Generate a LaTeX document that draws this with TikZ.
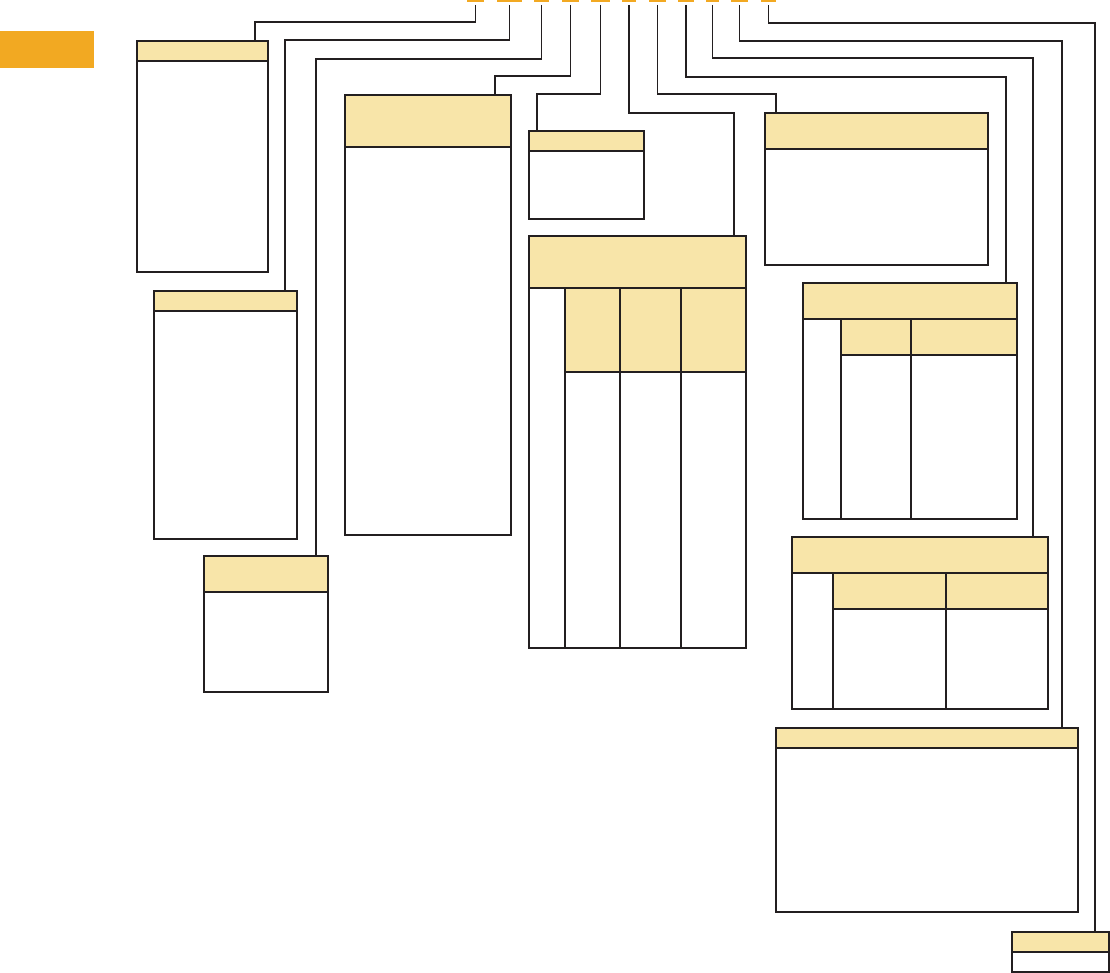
\documentclass[tikz,border=0pt]{standalone}
\usetikzlibrary{backgrounds}
\definecolor{ora}{HTML}{F2A922}
\definecolor{hdr}{HTML}{F8E5A9}
\definecolor{ink}{HTML}{231F20}
\tikzset{
  boxframe/.style={draw=ink, line width=1.1pt, fill=none, inner sep=0pt, outer sep=0pt, anchor=north west},
  hdrfill/.style={fill=hdr},
  tab/.style={fill=ora, draw=none, inner sep=0pt, outer sep=0pt, minimum height=2.5pt, anchor=north west},
  wire/.style={draw=ink, line width=1.1pt, shorten <=2.5pt},
  rule/.style={draw=ink, line width=1.1pt}
}
\begin{document}
\begin{tikzpicture}[x=1pt,y=-1pt]
\useasboundingbox (0,0) rectangle (1110,973);
% orange block
\node[fill=ora, inner sep=0pt, anchor=north west, minimum width=94pt, minimum height=37pt] (ob) at (0,31) {};
% tabs
\node[tab, minimum width=17pt] (d1) at (467,0) {};
\node[tab, minimum width=25pt] (d2) at (497,0) {};
\node[tab, minimum width=15pt] (d3) at (534,0) {};
\node[tab, minimum width=17pt] (d4) at (562,0) {};
\node[tab, minimum width=19pt] (d5) at (591,0) {};
\node[tab, minimum width=14pt] (d6) at (622,0) {};
\node[tab, minimum width=17pt] (d7) at (649,0) {};
\node[tab, minimum width=16pt] (d8) at (678,0) {};
\node[tab, minimum width=13pt] (d9) at (706,0) {};
\node[tab, minimum width=17pt] (d10) at (731,0) {};
\node[tab, minimum width=15pt] (d11) at (761,0) {};
% boxes
\node[boxframe, minimum width=131pt, minimum height=231pt] (b1) at (137,41) {};
\node[boxframe, minimum width=143pt, minimum height=248pt] (b2) at (154,291) {};
\node[boxframe, minimum width=124pt, minimum height=136pt] (b3) at (204,556) {};
\node[boxframe, minimum width=166pt, minimum height=440pt] (b4) at (345,95) {};
\node[boxframe, minimum width=115pt, minimum height=88pt] (b5) at (529,131) {};
\node[boxframe, minimum width=217pt, minimum height=412pt] (b6) at (529,236) {};
\node[boxframe, minimum width=223pt, minimum height=152pt] (b7) at (765,113) {};
\node[boxframe, minimum width=214pt, minimum height=236pt] (b8) at (803,283) {};
\node[boxframe, minimum width=256pt, minimum height=172pt] (b9) at (792,537) {};
\node[boxframe, minimum width=302pt, minimum height=184pt] (b10) at (776,728) {};
\node[boxframe, minimum width=97pt, minimum height=40pt] (b11) at (1012,932) {};
% header fills
\begin{scope}[on background layer]
\fill[hdrfill] (b1.north west) rectangle (268,61);
\fill[hdrfill] (b2.north west) rectangle (297,311);
\fill[hdrfill] (b3.north west) rectangle (328,592);
\fill[hdrfill] (b4.north west) rectangle (511,147);
\fill[hdrfill] (b5.north west) rectangle (644,151);
\fill[hdrfill] (b6.north west) rectangle (746,288);
\fill[hdrfill] (565,288) rectangle (746,372);
\fill[hdrfill] (b7.north west) rectangle (988,149);
\fill[hdrfill] (b8.north west) rectangle (1017,319);
\fill[hdrfill] (841,319) rectangle (1017,355);
\fill[hdrfill] (b9.north west) rectangle (1048,573);
\fill[hdrfill] (833,573) rectangle (1048,609);
\fill[hdrfill] (b10.north west) rectangle (1078,748);
\fill[hdrfill] (b11.north west) rectangle (1109,952);
\end{scope}
% header rules
\draw[rule] (b1.west |- 0,61) -- (b1.east |- 0,61);
\draw[rule] (b2.west |- 0,311) -- (b2.east |- 0,311);
\draw[rule] (b3.west |- 0,592) -- (b3.east |- 0,592);
\draw[rule] (b4.west |- 0,147) -- (b4.east |- 0,147);
\draw[rule] (b5.west |- 0,151) -- (b5.east |- 0,151);
\draw[rule] (b6.west |- 0,288) -- (b6.east |- 0,288);
\draw[rule] (565,372) -- (b6.east |- 0,372);
\draw[rule] (565,288) -- (b6.south -| 565,0);
\draw[rule] (620,288) -- (b6.south -| 620,0);
\draw[rule] (681,288) -- (b6.south -| 681,0);
\draw[rule] (b7.west |- 0,149) -- (b7.east |- 0,149);
\draw[rule] (b8.west |- 0,319) -- (b8.east |- 0,319);
\draw[rule] (841,355) -- (b8.east |- 0,355);
\draw[rule] (841,319) -- (b8.south -| 841,0);
\draw[rule] (911,319) -- (b8.south -| 911,0);
\draw[rule] (b9.west |- 0,573) -- (b9.east |- 0,573);
\draw[rule] (833,609) -- (b9.east |- 0,609);
\draw[rule] (833,573) -- (b9.south -| 833,0);
\draw[rule] (946,573) -- (b9.south -| 946,0);
\draw[rule] (b10.west |- 0,748) -- (b10.east |- 0,748);
\draw[rule] (b11.west |- 0,952) -- (b11.east |- 0,952);
% connectors
\coordinate (t1) at (255,22);
\coordinate (t2) at (285,40);
\coordinate (t3) at (316,59);
\coordinate (t4) at (495,76);
\coordinate (t5) at (537,94);
\coordinate (t6) at (734,113);
\coordinate (t7) at (776,94);
\coordinate (t8) at (1006,77);
\coordinate (t9) at (1033,58);
\coordinate (t10) at (1062,41);
\coordinate (t11) at (1095,23);
\draw[wire] (d1.south) |- (t1) -- (t1 |- b1.north);
\draw[wire] (d2.south) |- (t2) -- (t2 |- b2.north);
\draw[wire] (d3.south) |- (t3) -- (t3 |- b3.north);
\draw[wire] (d4.south) |- (t4) -- (t4 |- b4.north);
\draw[wire] (d5.south) |- (t5) -- (t5 |- b5.north);
\draw[wire] (d6.south) |- (t6) -- (t6 |- b6.north);
\draw[wire] (d7.south) |- (t7) -- (t7 |- b7.north);
\draw[wire] (d8.south) |- (t8) -- (t8 |- b8.north);
\draw[wire] (d9.south) |- (t9) -- (t9 |- b9.north);
\draw[wire] (d10.south) |- (t10) -- (t10 |- b10.north);
\draw[wire] (d11.south) |- (t11) -- (t11 |- b11.north);
\end{tikzpicture}
\end{document}
